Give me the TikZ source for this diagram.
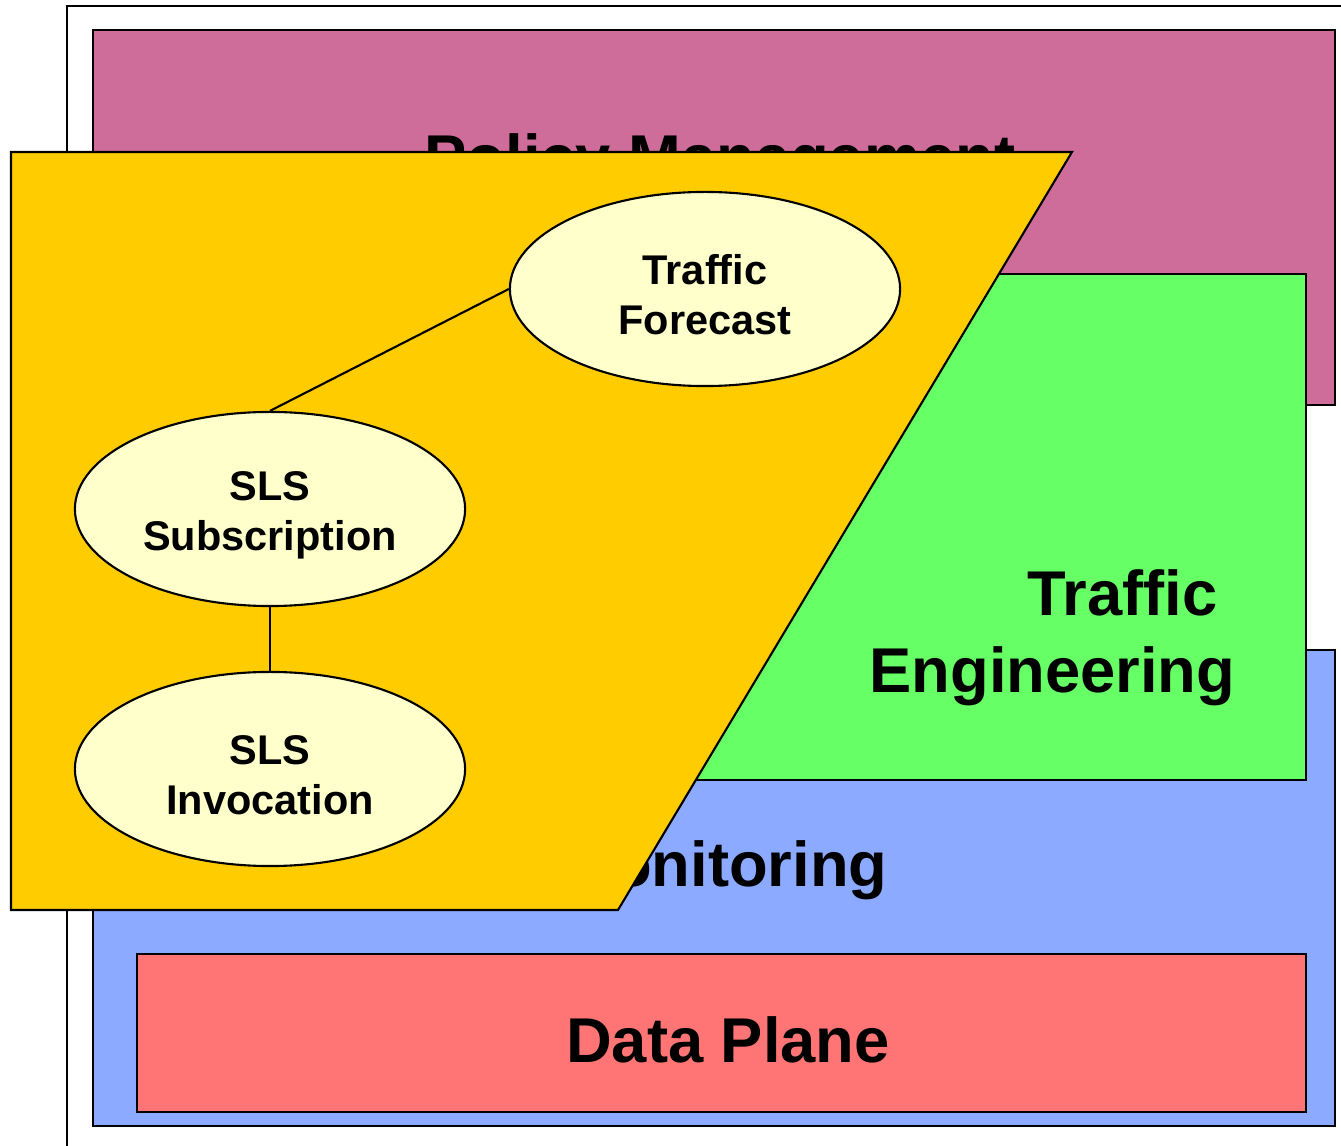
\documentclass[tikz,border=0pt]{standalone}
\usepackage{fontspec}
\setmainfont{Liberation Sans}
\usetikzlibrary{shapes.geometric}
\definecolor{policycol}{RGB}{206,108,154}
\definecolor{trafficcol}{RGB}{102,255,102}
\definecolor{monitorcol}{RGB}{140,170,255}
\definecolor{datacol}{RGB}{255,117,117}
\definecolor{slscol}{RGB}{255,204,0}
\definecolor{taskcol}{RGB}{255,255,204}
\newcommand{\toplift}{\rule{0pt}{0.42cm}}

\begin{document}
\begin{tikzpicture}[x=0.01cm,y=-0.01cm,
		layer/.style={draw=black, line width=0.6pt},
		bigtext/.style={inner sep=0pt, font=\fontsize{18}{22}\selectfont\bfseries},
		task/.style={ellipse, draw=black, line width=0.6pt, fill=taskcol,
			minimum width=3.9cm, minimum height=1.94cm, inner sep=0pt,
			align=center, font=\fontsize{11.8}{14.2}\selectfont\bfseries}]
		\useasboundingbox (0,0) rectangle (1341,1146);
		\clip (0,0) rectangle (1341,1146);
		% outer frame
		\draw[layer] (67,6) rectangle (1400,1200);
		% layers
		\draw[layer, fill=policycol] (93,30) rectangle (1335,405);
		\node[bigtext, anchor=base] (policy) at (720,180) {Policy Management};
		\draw[layer, fill=monitorcol] (93,650) rectangle (1335,1126);
		\node[bigtext, anchor=base east] (monitor) at (888,887) {Monitoring};
		\draw[layer, fill=trafficcol] (300,274) rectangle (1306,780);
		\node[bigtext, align=right, anchor=east] (traffic) at (1236,638) {Traffic\kern0.18cm\\Engineering};
		\draw[layer, fill=datacol] (137,954) rectangle (1306,1112);
		\node[bigtext, anchor=base] (data) at (728,1063) {Data Plane};
		% SLS management
		\draw[layer, fill=slscol] (11,152) -- (1072,152) -- (618,910) -- (11,910) -- cycle;
		\node[task] (forecast) at (705,289) {\toplift Traffic\\Forecast};
		\node[task] (subscr) at (270,509) {\toplift SLS\\Subscription};
		\node[task] (invoc) at (270,769) {\toplift SLS\\Invocation};
		\draw[line width=0.6pt] (forecast.west) -- (subscr.north);
		\draw[line width=0.6pt] (subscr.south) -- (invoc.north);
	\end{tikzpicture}
\end{document}
